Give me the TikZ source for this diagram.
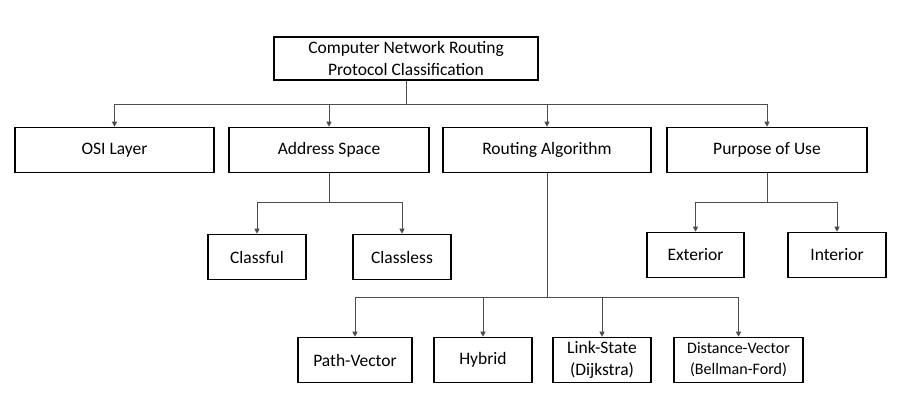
\documentclass[tikz,border=0pt]{standalone}
\usepackage{fontspec}
\setmainfont{Carlito}
\usetikzlibrary{arrows.meta}
\begin{document}
\begin{tikzpicture}[x=1pt,y=-1pt,
  box/.style={draw=black,line width=1.6pt,fill=white,inner sep=0pt,align=center,
    minimum height=45pt,font=\fontsize{17.5}{21.5}\selectfont},
  conn/.style={draw=black!70,line width=0.9pt},
  arr/.style={conn,-{Triangle[length=5pt,width=5pt]}}]
\useasboundingbox (0,0) rectangle (900,420);
\fill[white] (0,0) rectangle (900,420);
% nodes
\node[box,minimum width=264pt,minimum height=43pt] (root) at (406,58.5) {Computer Network Routing\\Protocol Classification};
\node[box,minimum width=199pt] (osi) at (114.5,150) {OSI Layer};
\node[box,minimum width=200pt] (addr) at (329,150) {Address Space};
\node[box,minimum width=208pt] (alg) at (547,150) {Routing Algorithm};
\node[box,minimum width=200pt] (purp) at (767,150) {Purpose of Use};
\node[box,minimum width=98pt] (cful) at (257,257) {Classful};
\node[box,minimum width=98pt] (cless) at (402,257) {Classless};
\node[box,minimum width=97pt] (ext) at (695.5,255) {Exterior};
\node[box,minimum width=98pt] (int) at (837,255) {Interior};
\node[box,minimum width=114pt] (pv) at (355,360) {Path-Vector};
\node[box,minimum width=98pt] (hyb) at (483,360) {Hybrid};
\node[box,minimum width=98pt] (ls) at (602,360) {Link-State\\(Dijkstra)};
\node[box,minimum width=129pt,font=\fontsize{16}{21}\selectfont] (dv) at (738.5,360) {Distance-Vector\\(Bellman-Ford)};
% junctions
\coordinate (j0) at (406,104);
\coordinate (j1) at (329,202);
\coordinate (j2) at (767,202);
\coordinate (j3) at (547,297);
% connectors
\draw[conn] (root.south) -- (j0);
\draw[arr] (j0) -| (osi.north);
\draw[arr] (j0) -| (addr.north);
\draw[arr] (j0) -| (alg.north);
\draw[arr] (j0) -| (purp.north);
\draw[conn] (addr.south) -- (j1);
\draw[arr] (j1) -| (cful.north);
\draw[arr] (j1) -| (cless.north);
\draw[conn] (purp.south) -- (j2);
\draw[arr] (j2) -| (ext.north);
\draw[arr] (j2) -| (int.north);
\draw[conn] (alg.south) -- (j3);
\draw[arr] (j3) -| (pv.north);
\draw[arr] (j3) -| (hyb.north);
\draw[arr] (j3) -| (ls.north);
\draw[arr] (j3) -| (dv.north);
\end{tikzpicture}
\end{document}
